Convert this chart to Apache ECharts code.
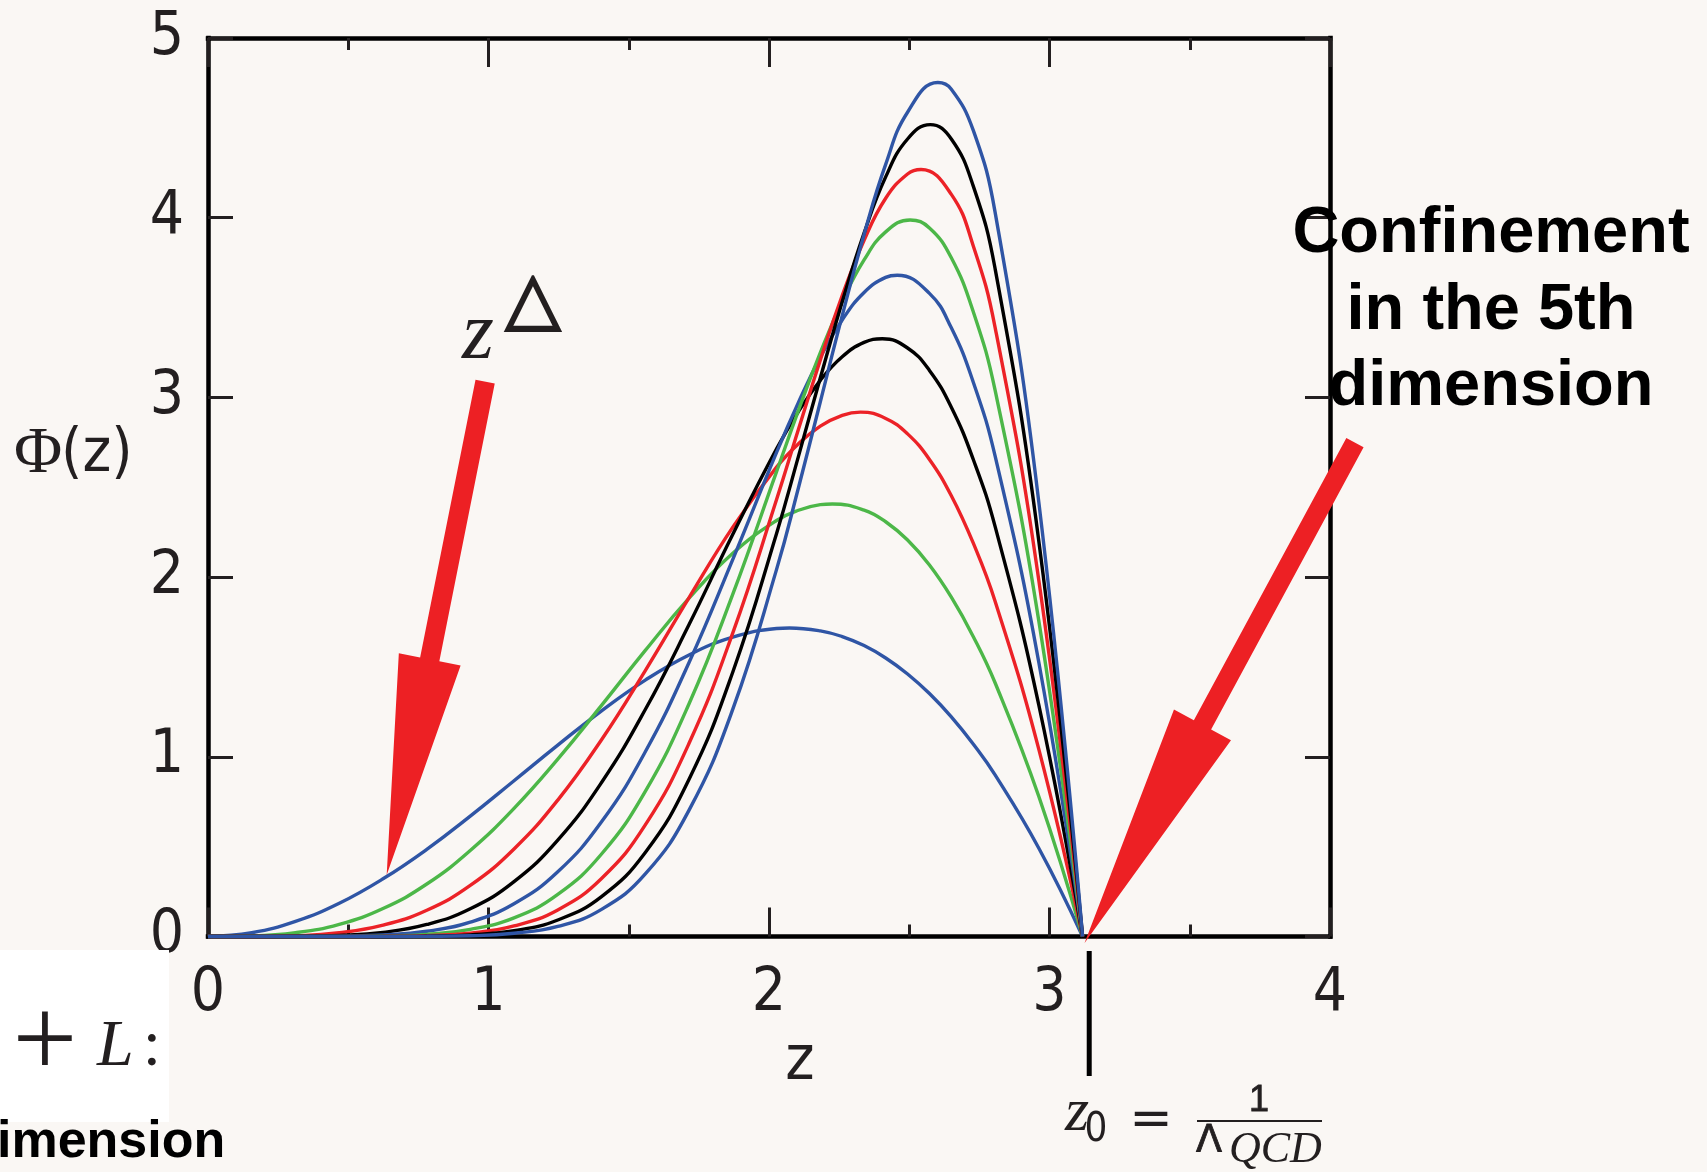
<!DOCTYPE html>
<html>
<head>
<meta charset="utf-8">
<title>Φ(z) profiles</title>
<script src="https://cdn.jsdelivr.net/npm/echarts@6/dist/echarts.min.js"></script>
<style>
  html, body { margin: 0; padding: 0; background: #faf7f4; }
  #chart { width: 1707px; height: 1172px; }
</style>
</head>
<body>
<div id="chart"></div>
<script>
// Common z grid shared by all profiles (denser around the maxima)
const zGrid = [0, 0.156, 0.312, 0.468, 0.624, 0.780, 0.935, 1.091, 1.247, 1.403, 1.559,
               1.715, 1.871, 2.027, 2.105, 2.183, 2.261, 2.339, 2.416, 2.494, 2.572,
               2.650, 2.728, 2.806, 2.962, 3.118];

// Φ(z) for Δ = 2 ... 10 (lowest peak to highest peak)
const phiDelta2  = [0, 0.021, 0.084, 0.185, 0.321, 0.485, 0.670, 0.867, 1.065, 1.256, 1.427, 1.567, 1.666,
                    1.714, 1.716, 1.701, 1.669, 1.619, 1.550, 1.461, 1.352, 1.222, 1.071, 0.899, 0.491, 0];
const phiDelta3  = [0, 0.003, 0.021, 0.068, 0.156, 0.292, 0.479, 0.713, 0.987, 1.286, 1.592, 1.883, 2.133,
                    2.315, 2.372, 2.403, 2.404, 2.373, 2.308, 2.206, 2.067, 1.888, 1.670, 1.412, 0.779, 0];
const phiDelta4  = [0, 0.000, 0.004, 0.021, 0.063, 0.146, 0.284, 0.487, 0.759, 1.095, 1.480, 1.886, 2.278,
                    2.612, 2.742, 2.840, 2.900, 2.916, 2.883, 2.797, 2.655, 2.453, 2.190, 1.866, 1.041, 0];
const phiDelta5  = [0, 0, 0.001, 0.006, 0.023, 0.067, 0.154, 0.305, 0.536, 0.857, 1.263, 1.736, 2.238,
                    2.714, 2.921, 3.095, 3.226, 3.306, 3.325, 3.275, 3.150, 2.945, 2.656, 2.282, 1.287, 0];
const phiDelta6  = [0, 0, 0, 0.002, 0.008, 0.029, 0.080, 0.182, 0.360, 0.638, 1.028, 1.525, 2.099,
                    2.694, 2.972, 3.223, 3.431, 3.584, 3.668, 3.670, 3.579, 3.387, 3.086, 2.674, 1.525, 0];
const phiDelta7  = [0, 0, 0, 0, 0.003, 0.012, 0.040, 0.104, 0.234, 0.459, 0.808, 1.295, 1.905,
                    2.587, 2.928, 3.249, 3.534, 3.765, 3.921, 3.986, 3.943, 3.777, 3.478, 3.040, 1.755, 0];
const phiDelta8  = [0, 0, 0, 0, 0.001, 0.005, 0.019, 0.059, 0.148, 0.323, 0.621, 1.075, 1.690,
                    2.432, 2.823, 3.208, 3.566, 3.874, 4.108, 4.243, 4.258, 4.130, 3.844, 3.390, 1.981, 0];
const phiDelta9  = [0, 0, 0, 0, 0, 0.002, 0.009, 0.032, 0.092, 0.222, 0.468, 0.875, 1.472,
                    2.243, 2.672, 3.109, 3.532, 3.914, 4.227, 4.438, 4.518, 4.438, 4.177, 3.717, 2.200, 0];
const phiDelta10 = [0, 0, 0, 0, 0, 0.001, 0.004, 0.018, 0.056, 0.151, 0.348, 0.703, 1.265,
                    2.043, 2.497, 2.976, 3.455, 3.907, 4.297, 4.587, 4.738, 4.715, 4.487, 4.031, 2.416, 0];

// Maximum of each profile: position and height
const peakZ   = [2.073, 2.226, 2.326, 2.404, 2.457, 2.503, 2.542, 2.575, 2.602];
const peakPhi = [1.717, 2.407, 2.918, 3.326, 3.680, 3.987, 4.268, 4.518, 4.752];

const deltas = [2, 3, 4, 5, 6, 7, 8, 9, 10];

// Axis ticks
const xTicks = [0, 1, 2, 3, 4];
const yTicks = [0, 1, 2, 3, 4, 5];

// Annotation anchors in data units
const z0Marker   = 3.1416;
const arrowTailA = [0.988, 3.088];
const arrowTipA  = [0.637, 0.342];
const arrowTailB = [4.089, 2.748];
const arrowTipB  = [3.125, -0.036];

const BLUE = '#2f55a5', GREEN = '#4cb748', RED = '#ec2227', BLACK = '#000000';
const lineColors = [BLUE, GREEN, RED, BLACK, BLUE, GREEN, RED, BLACK, BLUE];
const profiles = [phiDelta2, phiDelta3, phiDelta4, phiDelta5, phiDelta6,
                  phiDelta7, phiDelta8, phiDelta9, phiDelta10];

const NARROW = '"Liberation Sans Narrow", "DejaVu Sans Condensed", "Roboto Condensed", "Liberation Sans", sans-serif';
const SERIF = '"Liberation Serif", "DejaVu Serif", serif';
const INK = '#231f20';

// The grid sample nearest to a profile's maximum is taken at the maximum itself,
// so the smoothed line tops out at the right place.
function profilePoints(values, i) {
  let nearest = 0;
  zGrid.forEach((z, k) => {
    if (Math.abs(z - peakZ[i]) < Math.abs(zGrid[nearest] - peakZ[i])) nearest = k;
  });
  return zGrid.map((z, k) => (k === nearest ? [peakZ[i], peakPhi[i]] : [z, values[k]]));
}

const chart = echarts.init(document.getElementById('chart'), null, { renderer: 'canvas', width: 1707, height: 1172 });

const frameLine = { color: '#000', width: 4.5, cap: 'square' };
const tickLine = { color: INK, width: 3 };

function xAxisDef(position, showLabels) {
  return {
    type: 'value', position: position,
    min: xTicks[0], max: xTicks[xTicks.length - 1], interval: xTicks[1] - xTicks[0],
    axisLine: { show: true, onZero: false, lineStyle: frameLine },
    axisTick: { show: true, inside: true, length: 29, lineStyle: tickLine },
    minorTick: { show: true, splitNumber: 2, length: 12, lineStyle: tickLine },
    splitLine: { show: false },
    axisLabel: showLabels
      ? { show: true, margin: 28, color: INK, fontSize: 60, fontFamily: NARROW, showMinLabel: true, showMaxLabel: true }
      : { show: false }
  };
}

function yAxisDef(position, showLabels) {
  return {
    type: 'value', position: position,
    min: yTicks[0], max: yTicks[yTicks.length - 1], interval: yTicks[1] - yTicks[0],
    axisLine: { show: true, onZero: false, lineStyle: frameLine },
    axisTick: { show: true, inside: true, length: 25, lineStyle: tickLine },
    splitLine: { show: false },
    axisLabel: showLabels
      ? { show: true, margin: 24, color: INK, fontSize: 60, fontFamily: NARROW,
          padding: [0, 0, 9, 0], showMinLabel: true, showMaxLabel: true }
      : { show: false }
  };
}

const option = {
  backgroundColor: '#faf7f4',
  animation: false,
  grid: { left: 208, right: 377, top: 38, bottom: 235.5, containLabel: false },
  xAxis: [xAxisDef('bottom', true), xAxisDef('top', false)],
  yAxis: [yAxisDef('left', true), yAxisDef('right', false)],
  series: profiles.map((vals, i) => ({
    type: 'line',
    name: 'Δ = ' + deltas[i],
    xAxisIndex: 0, yAxisIndex: 0,
    data: profilePoints(vals, i),
    symbol: 'none', showSymbol: false,
    smooth: 0.45,
    clip: false,
    silent: true,
    z: 3 + i,
    lineStyle: { color: lineColors[i], width: 3.4 },
    itemStyle: { color: lineColors[i] }
  }))
};

chart.setOption(option);

// ---- annotations ----
const toPx = (p) => chart.convertToPixel({ seriesIndex: 0 }, p);

function arrowPoints(tail, tip, headLen, headHalf, shaftHalf) {
  const dx = tip[0] - tail[0], dy = tip[1] - tail[1];
  const len = Math.hypot(dx, dy);
  const ux = dx / len, uy = dy / len;
  const nx = -uy, ny = ux;
  const bx = tip[0] - ux * headLen, by = tip[1] - uy * headLen;
  return [
    [tail[0] + nx * shaftHalf, tail[1] + ny * shaftHalf],
    [bx + nx * shaftHalf, by + ny * shaftHalf],
    [bx + nx * headHalf, by + ny * headHalf],
    [tip[0], tip[1]],
    [bx - nx * headHalf, by - ny * headHalf],
    [bx - nx * shaftHalf, by - ny * shaftHalf],
    [tail[0] - nx * shaftHalf, tail[1] - ny * shaftHalf]
  ];
}

function label(text, x, y, font, align, fill, extraStyle) {
  return {
    type: 'text', x: x, y: y, z: 60, silent: true,
    style: Object.assign({
      text: text, font: font, fill: fill || INK,
      align: align || 'left', verticalAlign: 'middle',
      textAlign: align || 'left', textVerticalAlign: 'middle'
    }, extraStyle || {})
  };
}

const markerX = toPx([z0Marker, 0])[0];
const arrowRed = '#ed2024';
const BOLD = 'bold 65px "Liberation Sans", Arial, sans-serif';

const graphics = [
  // white panel at the lower left
  { type: 'rect', z: 1, silent: true, shape: { x: 0, y: 950, width: 169, height: 172 }, style: { fill: '#ffffff' } },

  // arrows
  { type: 'polygon', z: 80, silent: true,
    shape: { points: arrowPoints(toPx(arrowTailA), toPx(arrowTipA), 220, 31.5, 9.8) },
    style: { fill: arrowRed } },
  { type: 'polygon', z: 80, silent: true,
    shape: { points: arrowPoints(toPx(arrowTailB), toPx(arrowTipB), 248, 32.4, 9.8) },
    style: { fill: arrowRed } },

  // z0 marker below the axis
  { type: 'line', z: 60, silent: true,
    shape: { x1: markerX, y1: 951, x2: markerX, y2: 1076 },
    style: { stroke: '#000', lineWidth: 5 } },

  // axis titles
  label('Φ', 14, 455, '66px ' + SERIF),
  label('(z)', 61, 455, '61px ' + NARROW),
  label('z', 800, 1063, '62px ' + NARROW, 'center'),

  // z^Δ
  label('z', 478, 336, 'italic 82px ' + SERIF, 'center'),
  label('△', 533, 303, '72px "DejaVu Sans", sans-serif', 'center', INK, { stroke: INK, lineWidth: 2.2 }),

  // confinement note
  label('Confinement', 1491, 234, BOLD, 'center', '#000'),
  label('in the 5th', 1491, 311, BOLD, 'center', '#000'),
  label('dimension', 1491, 387, BOLD, 'center', '#000'),

  // z0 = 1 / Λ_QCD
  label('z', 1077, 1114, 'italic 62px ' + SERIF, 'center'),
  label('0', 1096, 1131, '40px ' + NARROW, 'center'),
  label('=', 1151, 1121, '52px "DejaVu Sans", sans-serif', 'center'),
  { type: 'line', z: 60, silent: true,
    shape: { x1: 1197, y1: 1121, x2: 1322, y2: 1121 },
    style: { stroke: INK, lineWidth: 2 } },
  label('1', 1259, 1101, '36px "Liberation Sans", sans-serif', 'center', INK, { stroke: INK, lineWidth: 0.8 }),
  label('Λ', 1196, 1141, '38px "DejaVu Sans", sans-serif', 'left', INK, { stroke: INK, lineWidth: 0.8 }),
  label('QCD', 1229, 1150, 'italic 44px ' + SERIF, 'left'),

  // fragments at the lower left
  label('+', 45, 1046, '115px ' + SERIF, 'center'),
  label('L', 97, 1048, 'italic 66px ' + SERIF, 'left'),
  label(':', 152, 1048, '66px ' + SERIF, 'center'),
  label('imension', -3, 1143, 'bold 52px "Liberation Sans", Arial, sans-serif', 'left', '#000')
];

chart.setOption({ graphic: { elements: graphics } });
</script>
</body>
</html>
